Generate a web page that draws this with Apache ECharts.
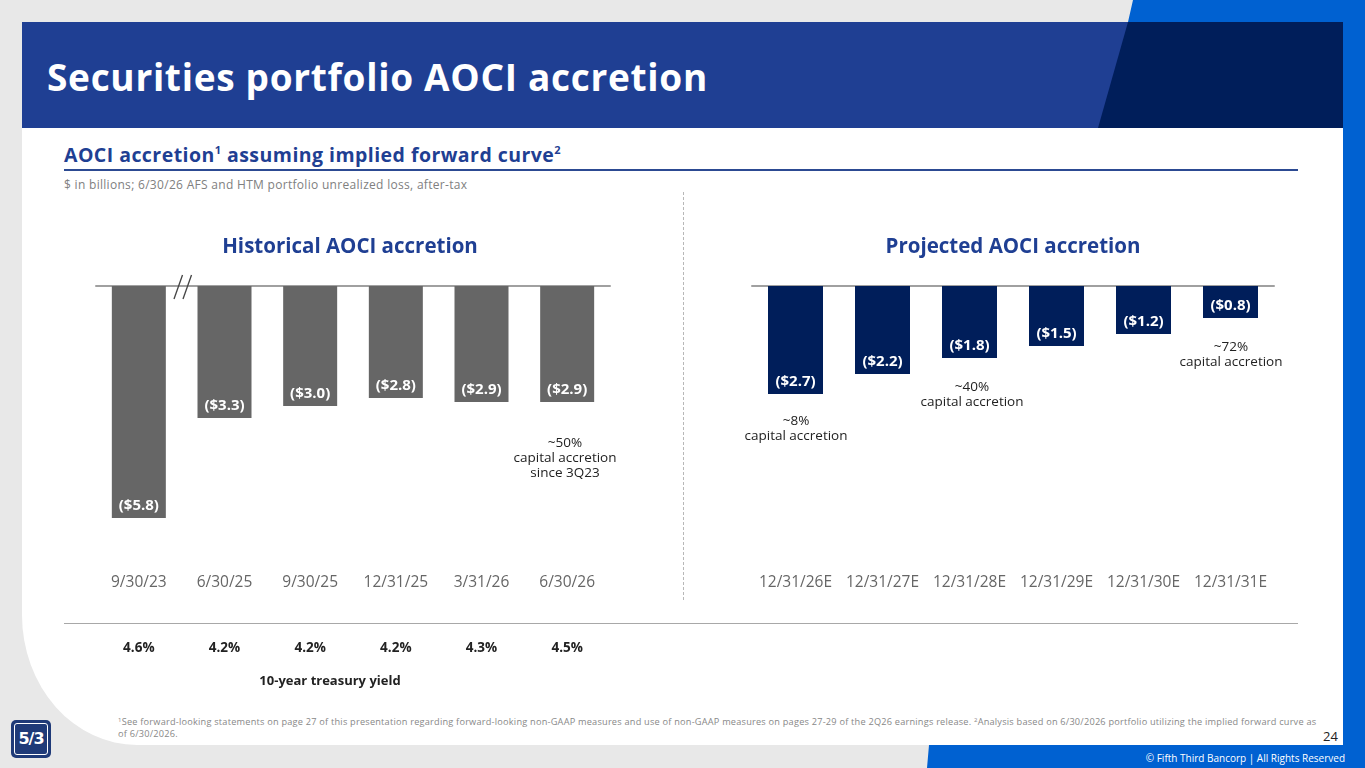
<!DOCTYPE html>
<html>
<head>
<meta charset="utf-8">
<script src="https://cdn.jsdelivr.net/npm/echarts@6/dist/echarts.min.js"></script>
<style>
  html, body { margin:0; padding:0; width:1365px; height:768px; overflow:hidden; background:#e8e8e8; font-family:"Open Sans", "Lato", sans-serif; }
  .abs { position:absolute; }
  #topblue { left:0; top:0; width:1365px; height:768px; background:#0061d1;
     clip-path: polygon(1133px 0, 1365px 0, 1365px 768px, 927px 768px, 929px 745px, 1343px 745px, 1343px 22px, 1128px 22px); }
  #panel { left:22px; top:22px; width:1321px; height:723px; background:#ffffff; border-bottom-left-radius:115px 130px; }
  #banner { left:22px; top:22px; width:1321px; height:106px; background:#1f3f93; }
  #bannerdark { left:22px; top:22px; width:1321px; height:106px; background:#001e5a;
     clip-path: polygon(1106px 0, 1321px 0, 1321px 106px, 1076px 106px); }
  #title { left:47px; top:51px; color:#fff; font-weight:700; font-size:37px; letter-spacing:0.7px; white-space:nowrap; }
  #subtitle { left:64px; top:141px; color:#1f3f93; font-weight:700; font-size:19.5px; letter-spacing:0.45px; white-space:nowrap; }
  #subtitle sup { font-size:11px; vertical-align:8px; line-height:0; }
  #subline { left:64px; top:169px; width:1234px; height:2px; background:#2c4a92; }
  #units { left:64px; top:175.5px; color:#808080; font-size:12px; letter-spacing:0.3px; white-space:nowrap; }
  #sep { left:683px; top:192px; width:0; height:408px; border-left:1px dashed #b8b8b8; }
  #yline { left:64px; top:623px; width:1234px; height:0; border-top:1.5px solid #a8a8a8; }
  #foot { left:118px; top:716px; width:1200px; color:#888; font-size:9.2px; letter-spacing:0.22px; line-height:12px; }
  #foot sup { font-size:6px; vertical-align:3px; line-height:0; }
  #page { left:1323px; top:727px; color:#222; font-size:13px; }
  #copy { left:1100px; top:751px; width:245px; text-align:right; color:#fff; font-size:10px; white-space:nowrap; }
  #logo { left:12px; top:721px; width:38px; height:36px; background:#1f3a78; border-radius:4px; box-shadow:0 0 0 1px #1f3a78; }
  #logoin { position:absolute; left:2px; top:2px; width:32px; height:30px; border:1px solid #fff; border-radius:3px; color:#fff; font-weight:800; font-size:16px; line-height:30px; text-align:center; letter-spacing:-1px; font-family:"DejaVu Sans", sans-serif; }
  #chart { left:0; top:0; width:1365px; height:768px; }
</style>
</head>
<body>
<div class="abs" id="topblue"></div>
<div class="abs" id="panel"></div>
<div class="abs" id="banner"></div>
<div class="abs" id="bannerdark"></div>
<div class="abs" id="title">Securities portfolio AOCI accretion</div>
<div class="abs" id="subtitle">AOCI accretion<sup>1</sup> assuming implied forward curve<sup>2</sup></div>
<div class="abs" id="subline"></div>
<div class="abs" id="units">$ in billions; 6/30/26 AFS and HTM portfolio unrealized loss, after-tax</div>
<div class="abs" id="sep"></div>
<div class="abs" id="yline"></div>
<div class="abs" id="foot"><sup>1</sup>See forward-looking statements on page 27 of this presentation regarding forward-looking non-GAAP measures and use of non-GAAP measures on pages 27-29 of the 2Q26 earnings release. <sup>2</sup>Analysis based on 6/30/2026 portfolio utilizing the implied forward curve as of 6/30/2026.</div>
<div class="abs" id="page">24</div>
<div class="abs" id="copy">© Fifth Third Bancorp | All Rights Reserved</div>
<div class="abs" id="logo"><div id="logoin">5/3</div></div>
<div class="abs" id="chart"></div>
<script>
// ---- data ----
const histCategories = ['9/30/23', '6/30/25', '9/30/25', '12/31/25', '3/31/26', '6/30/26'];
const histValues = [-5.8, -3.3, -3.0, -2.8, -2.9, -2.9];
const projCategories = ['12/31/26E', '12/31/27E', '12/31/28E', '12/31/29E', '12/31/30E', '12/31/31E'];
const projValues = [-2.7, -2.2, -1.8, -1.5, -1.2, -0.8];
const treasuryYields = ['4.6%', '4.2%', '4.2%', '4.2%', '4.3%', '4.5%'];
const annotations = [
  { text: '~50%\ncapital accretion\nsince 3Q23', x: 565, y: 436 },
  { text: '~8%\ncapital accretion', x: 796, y: 414 },
  { text: '~40%\ncapital accretion', x: 972, y: 380 },
  { text: '~72%\ncapital accretion', x: 1231, y: 340 }
];

const fmt = p => '($' + Math.abs(p.value).toFixed(1) + ')';
const FONT = '"Open Sans", "Lato", sans-serif';

const chart = echarts.init(document.getElementById('chart'), null, { renderer: 'canvas' });

function topAxis(gi, cats) {
  return { type: 'category', gridIndex: gi, data: cats, position: 'top',
    axisLine: { show: true, onZero: false, lineStyle: { color: '#a0a0a0', width: 2 } },
    axisTick: { show: false }, axisLabel: { show: false } };
}
function bottomAxis(gi, cats, margin, style) {
  return { type: 'category', gridIndex: gi, data: cats, position: 'bottom',
    axisLine: { show: false, onZero: false }, axisTick: { show: false },
    axisLabel: Object.assign({ margin: margin, fontFamily: FONT, interval: 0 }, style) };
}

const option = {
  backgroundColor: 'transparent',
  animation: false,
  textStyle: { fontFamily: FONT },
  title: [
    { text: 'Historical AOCI accretion', left: 345, top: 232, textAlign: 'center',
      textStyle: { color: '#1f3f93', fontSize: 20.5, fontWeight: 700, fontFamily: FONT } },
    { text: 'Projected AOCI accretion', left: 1008, top: 232, textAlign: 'center',
      textStyle: { color: '#1f3f93', fontSize: 20.5, fontWeight: 700, fontFamily: FONT } }
  ],
  grid: [
    { left: 96, top: 286, width: 514, height: 280 },
    { left: 752, top: 286, width: 522, height: 280 }
  ],
  xAxis: [
    topAxis(0, histCategories),
    bottomAxis(0, histCategories, 9, { color: '#666', fontSize: 15.5 }),
    bottomAxis(0, treasuryYields, 75, { color: '#222', fontSize: 13.5, fontWeight: 700 }),
    topAxis(1, projCategories),
    bottomAxis(1, projCategories, 9, { color: '#666', fontSize: 15.5 })
  ],
  yAxis: [
    { type: 'value', gridIndex: 0, min: -7, max: 0, show: false },
    { type: 'value', gridIndex: 1, min: -7, max: 0, show: false }
  ],
  series: [
    { type: 'bar', xAxisIndex: 1, yAxisIndex: 0, data: histValues, barWidth: 54,
      itemStyle: { color: '#666666' },
      label: { show: true, position: 'insideBottom', distance: 5, formatter: fmt,
        color: '#fff', fontSize: 15, fontWeight: 700, fontFamily: FONT } },
    { type: 'bar', xAxisIndex: 4, yAxisIndex: 1, data: projValues, barWidth: 55,
      itemStyle: { color: '#001e5a' },
      label: { show: true, position: 'insideBottom', distance: 5, formatter: fmt,
        color: '#fff', fontSize: 15, fontWeight: 700, fontFamily: FONT } }
  ],
  graphic: [
    { type: 'line', shape: { x1: 174, y1: 299, x2: 182.5, y2: 275 }, style: { stroke: '#444', lineWidth: 1.3 }, z: 100 },
    { type: 'line', shape: { x1: 183, y1: 299, x2: 191.5, y2: 275 }, style: { stroke: '#444', lineWidth: 1.3 }, z: 100 },
    { type: 'text', x: 330, y: 675, style: { text: '10-year treasury yield', fill: '#222', font: '700 13px ' + FONT, textAlign: 'center' } }
  ].concat(annotations.map(a => ({
    type: 'text', x: a.x, y: a.y,
    style: { text: a.text, fill: '#222', font: '13.5px ' + FONT, textAlign: 'center', lineHeight: 15 }
  })))
};
chart.setOption(option);
</script>
</body>
</html>
